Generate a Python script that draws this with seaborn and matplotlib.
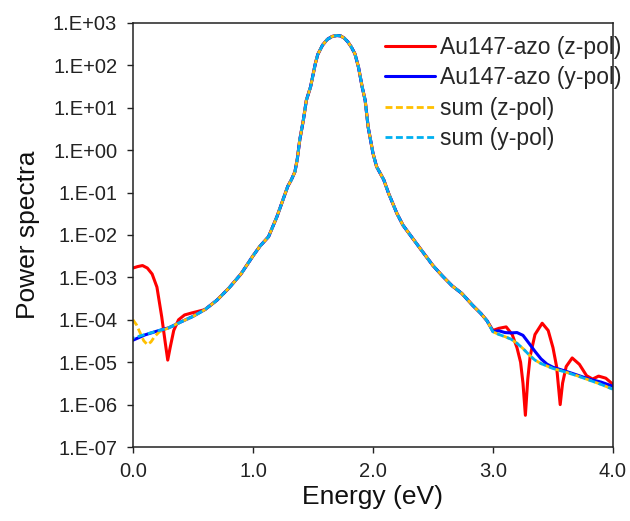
import numpy as np
import pandas as pd
import seaborn as sns
import matplotlib.pyplot as plt
from matplotlib.ticker import FixedLocator, FuncFormatter, NullLocator

# shared middle part of all four spectra (0.6 - 2.95 eV)
energy_mid = [0.60, 0.70, 0.80, 0.90, 1.00, 1.06, 1.13, 1.20, 1.24, 1.29, 1.32, 1.35,
              1.37, 1.39, 1.42, 1.445, 1.48, 1.52, 1.54, 1.58, 1.62, 1.66, 1.70, 1.73,
              1.76, 1.79, 1.82, 1.85, 1.88, 1.91, 1.935, 1.96, 2.00, 2.03, 2.09, 2.13,
              2.20, 2.25, 2.31, 2.42, 2.50, 2.58, 2.66, 2.74, 2.83, 2.90, 2.95]
power_mid = [1.74e-4, 2.9e-4, 5.6e-4, 1.2e-3, 3.2e-3, 5.5e-3, 9.1e-3, 2.7e-2, 5.6e-2,
             0.14, 0.20, 0.31, 0.63, 1.74, 5.1, 15, 31, 110, 180, 300, 410, 480, 505,
             495, 440, 360, 270, 186, 89, 31, 15, 3.5, 0.85, 0.41, 0.20, 9.6e-2,
             3.2e-2, 1.7e-2, 1.0e-2, 3.8e-3, 1.9e-3, 1.07e-3, 6.3e-4, 4.2e-4,
             2.2e-4, 1.4e-4, 9.5e-5]

# low-energy parts (< 0.6 eV)
energy_low = [0.0, 0.1, 0.2, 0.3, 0.4, 0.5]
sum_y_low = [3.7e-5, 4.5e-5, 5.4e-5, 6.5e-5, 8.9e-5, 1.2e-4]
au_y_low = [3.3e-5, 4.4e-5, 5.4e-5, 6.5e-5, 8.9e-5, 1.2e-4]

energy_low_z = [0.00, 0.04, 0.08, 0.12, 0.16, 0.20, 0.24, 0.27, 0.29, 0.31, 0.34,
                0.38, 0.43, 0.49, 0.55]
au_z_low = [1.66e-3, 1.8e-3, 1.9e-3, 1.66e-3, 1.2e-3, 5.9e-4, 1.17e-4, 2.8e-5,
            1.12e-5, 2.2e-5, 5.6e-5, 1.0e-4, 1.3e-4, 1.45e-4, 1.6e-4]

energy_low_sz = [0.00, 0.03, 0.06, 0.09, 0.12, 0.15, 0.18, 0.22, 0.30, 0.40, 0.50]
sum_z_low = [1.0e-4, 7.6e-5, 4.9e-5, 3.2e-5, 2.6e-5, 3.0e-5, 4.0e-5, 5.2e-5,
             6.5e-5, 8.9e-5, 1.2e-4]

# high-energy parts (>= 3.0 eV)
energy_high = [3.00, 3.05, 3.10, 3.15, 3.20, 3.25, 3.30, 3.35, 3.40, 3.50, 3.60,
               3.70, 3.80, 3.90, 4.00]
sum_high = [5.2e-5, 4.5e-5, 4.0e-5, 3.5e-5, 2.8e-5, 2.1e-5, 1.5e-5, 1.12e-5,
            9.3e-6, 7.1e-6, 5.9e-6, 4.8e-6, 3.8e-6, 3.0e-6, 2.3e-6]

energy_high_y = [3.00, 3.05, 3.10, 3.15, 3.20, 3.25, 3.30, 3.35, 3.40, 3.45, 3.50,
                 3.60, 3.70, 3.80, 3.90, 4.00]
au_y_high = [5.3e-5, 5.5e-5, 5.0e-5, 4.9e-5, 5.0e-5, 4.3e-5, 2.8e-5, 1.8e-5,
             1.2e-5, 9.0e-6, 7.6e-6, 6.2e-6, 5.0e-6, 4.0e-6, 3.4e-6, 2.7e-6]

energy_high_z = [3.00, 3.05, 3.11, 3.16, 3.20, 3.23, 3.25, 3.27, 3.29, 3.31, 3.35,
                 3.41, 3.46, 3.50, 3.53, 3.56, 3.58, 3.61, 3.66, 3.72, 3.78, 3.83,
                 3.88, 3.94, 4.00]
au_z_high = [5.6e-5, 6.3e-5, 6.8e-5, 4.5e-5, 2.2e-5, 1.0e-5, 3.2e-6, 5.6e-7,
             4.0e-6, 1.4e-5, 4.5e-5, 8.3e-5, 5.6e-5, 2.2e-5, 7.9e-6, 1.0e-6,
             3.2e-6, 7.9e-6, 1.26e-5, 8.9e-6, 4.8e-6, 4.0e-6, 4.7e-6, 4.2e-6, 3.0e-6]

dash = (2.5, 1.25)
series = [
    ("Au147-azo (z-pol)", energy_low_z, au_z_low, energy_high_z, au_z_high, "#ff0000", "-"),
    ("Au147-azo (y-pol)", energy_low, au_y_low, energy_high_y, au_y_high, "#0000ff", "-"),
    ("sum (z-pol)", energy_low_sz, sum_z_low, energy_high, sum_high, "#ffc000", (0, dash)),
    ("sum (y-pol)", energy_low, sum_y_low, energy_high, sum_high, "#00b0f0", (1.9, dash)),
]

sns.set_theme(style="ticks")
plt.rcParams['font.family'] = ['Liberation Sans', 'DejaVu Sans']

fig = plt.figure(figsize=(6.3, 5.21), dpi=100)
ax = fig.add_axes([0.211, 0.142, 0.762, 0.814])

for name, e_lo, p_lo, e_hi, p_hi, color, ls in series:
    df = pd.DataFrame({"energy": list(e_lo) + energy_mid + list(e_hi),
                       "power": list(p_lo) + power_mid + list(p_hi)})
    lw = 2.2 if ls == "-" else 2.0
    sns.lineplot(data=df, x="energy", y="power", ax=ax, color=color, lw=lw,
                 linestyle=ls, label=name, estimator=None, sort=True)

ax.set_yscale("log")
ax.set_xlim(0, 4)
ax.set_ylim(1e-7, 1e3)
ax.xaxis.set_major_locator(FixedLocator([0, 1, 2, 3, 4]))
ax.xaxis.set_major_formatter(FuncFormatter(lambda v, p: f"{v:.1f}"))
ax.yaxis.set_major_locator(FixedLocator([10.0 ** k for k in range(-7, 4)]))
ax.yaxis.set_major_formatter(
    FuncFormatter(lambda v, p: f"1.E{int(round(np.log10(v))):+03d}"))
ax.yaxis.set_minor_locator(NullLocator())

for s in ax.spines.values():
    s.set_color("#222222")
    s.set_linewidth(1.1)
ax.tick_params(axis="both", direction="out", length=4.3, width=1.0,
               color="#222222", labelsize=14.5, labelcolor="#222222")
ax.tick_params(axis="y", pad=7)
ax.tick_params(axis="x", pad=6.5)

ax.set_xlabel("Energy (eV)", fontsize=19, color="#111111", labelpad=3)
ax.set_ylabel("Power spectra", fontsize=19, color="#111111", labelpad=9)

leg = ax.legend(loc="upper left", bbox_to_anchor=(0.525, 0.970), frameon=False,
                fontsize=16.5, handlelength=2.2, handletextpad=0.2, labelspacing=0.33,
                borderpad=0, borderaxespad=0)
# legend samples start on a full dash
for line in leg.get_lines()[2:]:
    line.set_linestyle((0, dash))

fig.savefig("out.png", dpi=100)
